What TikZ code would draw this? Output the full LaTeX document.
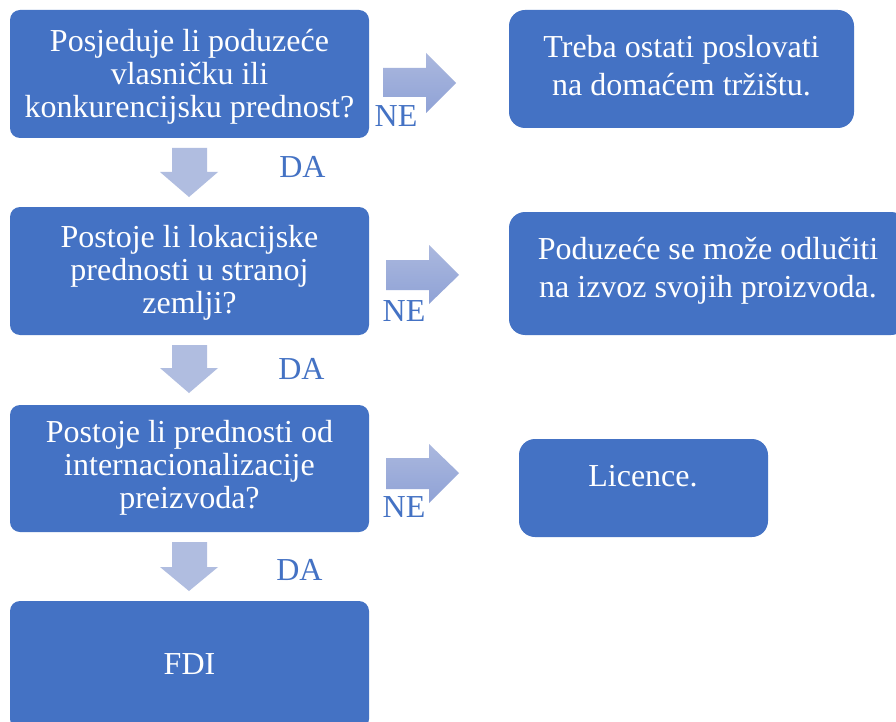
\documentclass[tikz,border=0pt]{standalone}
\usepackage{fontspec}
\setmainfont{Liberation Serif}
\definecolor{boxblue}{HTML}{4472C4}
\definecolor{arrtop}{HTML}{ABB8DE}
\definecolor{arrbot}{HTML}{8FA2D6}
\definecolor{arrdown}{HTML}{B0BDE0}
\begin{document}
\begin{tikzpicture}[x=1pt,y=-1pt,
  lbox/.style={fill=boxblue, rounded corners=10pt, minimum width=359pt, inner sep=0pt, draw=none},
  rbox/.style={fill=boxblue, rounded corners=16pt, inner sep=0pt, draw=none},
  ltext/.style={text=white, align=center, inner sep=0pt, font=\fontsize{32}{33}\selectfont},
  rtext/.style={text=white, align=center, inner sep=0pt, font=\fontsize{32}{38}\selectfont},
  yesno/.style={text=boxblue, anchor=base, inner sep=0pt, font=\fontsize{32}{38}\selectfont},
  rarrow/.style={top color=arrtop, bottom color=arrbot},
  darrow/.style={fill=arrdown}]
\clip (0,0) rectangle (896,722);
\fill[white] (0,0) rectangle (896,722);

% left column boxes
\node[lbox, minimum height=128pt] (b1) at (189.5,74) {};
\node[lbox, minimum height=128pt] (b2) at (189.5,271) {};
\node[lbox, minimum height=127pt] (b3) at (189.5,468.5) {};
\node[lbox, minimum height=128pt] (b4) at (189.5,665) {};

\node[ltext] (t1) at (189.5,76.5) {Posjeduje li poduzeće\\vlasničku ili\\konkurencijsku prednost?};
\node[ltext] (t2) at (189.5,272.5) {Postoje li lokacijske\\prednosti u stranoj\\zemlji?};
\node[ltext] (t3) at (189.5,467.5) {Postoje li prednosti od\\internacionalizacije\\preizvoda?};
\node[ltext] (t4) at (189.5,664.5) {FDI};

% right column boxes
\node[rbox, minimum width=345pt, minimum height=118pt] (r1) at (681.5,69) {};
\node[rbox, minimum width=398pt, minimum height=123pt] (r2) at (708,273.5) {};
\node[rbox, minimum width=249pt, minimum height=98pt] (r3) at (643.5,488) {};

\node[rtext] (s1) at (681.5,65.5) {Treba ostati poslovati\\na domaćem tržištu.};
\node[rtext] (s2) at (708,270.5) {Poduzeće se može odlučiti\\na izvoz svojih proizvoda.};
\node[rtext] (s3) at (643,476) {Licence.};

% right block arrows
\shade[rarrow] (383,68) -- (426,68) -- (426,53) -- (456,83) -- (426,113) -- (426,97) -- (383,97) -- cycle;
\shade[rarrow] (386,260) -- (429,260) -- (429,245) -- (459,275) -- (429,304) -- (429,290) -- (386,290) -- cycle;
\shade[rarrow] (386,458) -- (429,458) -- (429,444) -- (459,473) -- (429,503) -- (429,489) -- (386,489) -- cycle;

% down block arrows
\fill[darrow] (172,148) -- (207,148) -- (207,172) -- (218,172) -- (189,197) -- (160,172) -- (172,172) -- cycle;
\fill[darrow] (172,345) -- (207,345) -- (207,368) -- (218,368) -- (189,393) -- (160,368) -- (172,368) -- cycle;
\fill[darrow] (172,542) -- (207,542) -- (207,567) -- (218,567) -- (189,591) -- (160,567) -- (172,567) -- cycle;

% labels
\node[yesno] (ne1) at (396,127) {NE};
\node[yesno] (ne2) at (404,321) {NE};
\node[yesno] (ne3) at (404,517) {NE};
\node[yesno] (da1) at (302.5,178) {DA};
\node[yesno] (da2) at (301.5,379) {DA};
\node[yesno] (da3) at (299.5,580) {DA};
\end{tikzpicture}
\end{document}
